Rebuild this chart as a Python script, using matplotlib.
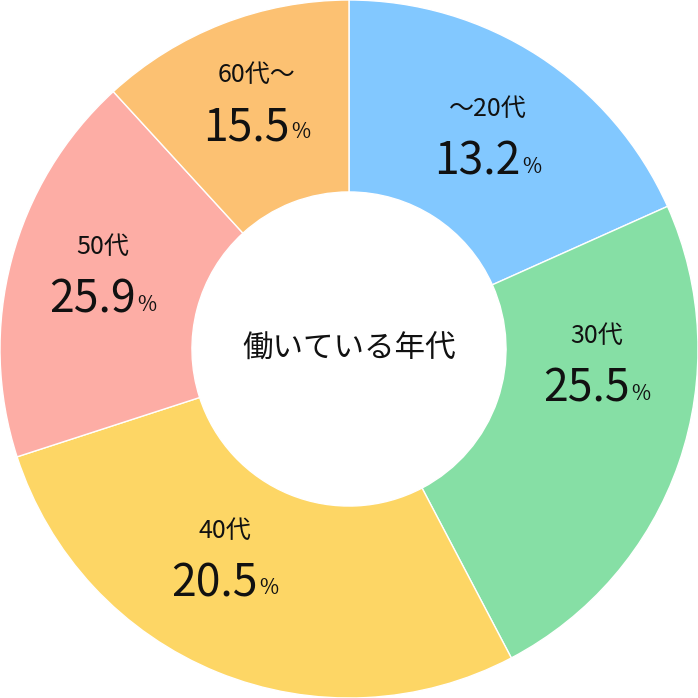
import matplotlib
matplotlib.use("Agg")
import matplotlib.pyplot as plt
import numpy as np

categories = ["〜20代", "30代", "40代", "50代", "60代〜"]
label_values = ["13.2", "25.5", "20.5", "25.9", "15.5"]
slice_shares = [18.3, 24.0, 27.7, 18.2, 11.8]
colors = ["#82C8FF", "#86DFA5", "#FDD665", "#FDADA5", "#FCC172"]
center_text = "働いている年代"

plt.rcParams['font.family'] = ['Noto Sans CJK JP', 'DejaVu Sans']
fig = plt.figure(figsize=(6.98, 6.98), dpi=100)
ax = fig.add_axes([0, 0, 1, 1])
ax.set_xlim(-1, 1); ax.set_ylim(-1, 1); ax.set_aspect('equal'); ax.axis('off')

wedges, _ = ax.pie(slice_shares, colors=colors, startangle=90, counterclock=False,
                   radius=1.0, wedgeprops=dict(width=0.55, edgecolor='white', linewidth=1.0))
ax.set_xlim(-1, 1); ax.set_ylim(-1, 1)

ax.text(0, 0, center_text, ha='center', va='center', fontsize=22, color='#111')

fig.canvas.draw()
r = fig.canvas.get_renderer()
total = sum(slice_shares)
start = 0.0
offsets = [(0.0, 0.0), (0.02, 0.2), (-0.08, 0.08), (0.0, 0.03), (0.0, 0.03)]
for cat, val, s, off in zip(categories, label_values, slice_shares, offsets):
    mid = np.deg2rad((start + s / 2) / total * 360)
    start += s
    x = 0.73 * np.sin(mid) + off[0]
    y = 0.73 * np.cos(mid) + off[1]
    ax.text(x, y + 0.075, cat, ha='center', va='center', fontsize=18, color='#111')
    t = ax.text(x - 0.03, y - 0.075, val, ha='center', va='center', fontsize=32, color='#111')
    bb = t.get_window_extent(r).transformed(ax.transData.inverted())
    ax.text(bb.x1 + 0.005, y - 0.09, "%", ha='left', va='center', fontsize=15, color='#111')

fig.savefig("out.png", dpi=100)
